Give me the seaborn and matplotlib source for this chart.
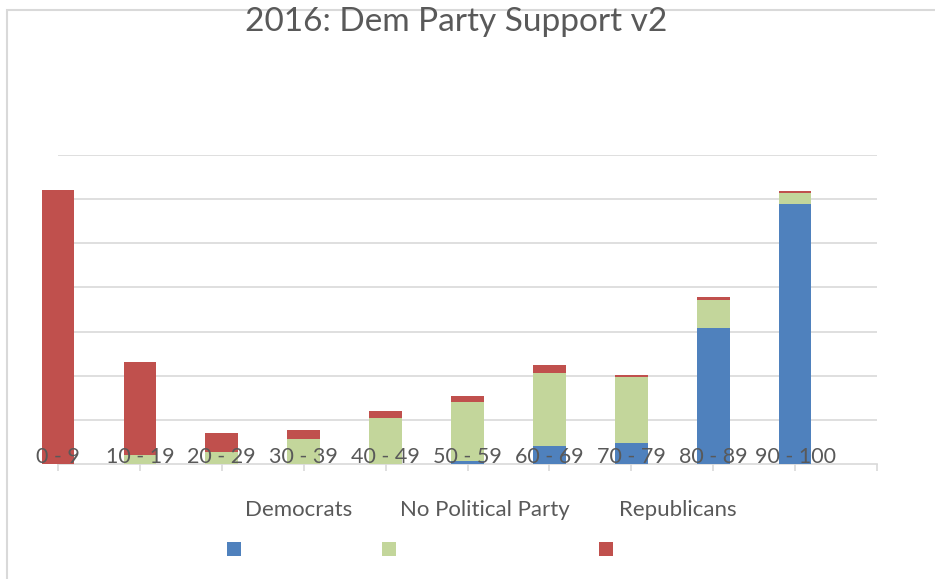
import matplotlib
matplotlib.use("Agg")
import matplotlib.pyplot as plt
from matplotlib.patches import Rectangle
import seaborn as sns
import pandas as pd
import numpy as np

categories = ["0 - 9", "10 - 19", "20 - 29", "30 - 39", "40 - 49",
              "50 - 59", "60 - 69", "70 - 79", "80 - 89", "90 - 100"]
democrats = [0, 0, 0, 0, 0.5, 3.5, 20, 24, 154, 294]
no_party = [0, 10, 14, 28, 52, 67, 83, 74, 32, 13]
republicans = [310, 105, 21, 10, 7, 6, 9, 2.5, 3, 2]
series_names = ["Democrats", "No Political Party", "Republicans"]
colors = ["#4f81bd", "#c3d69b", "#c0504d"]

sns.set_theme(style="white")
plt.rcParams["font.family"] = ["Lato", "DejaVu Sans"]
text_color = "#595959"
grid_color = "#d9d9d9"

df = pd.DataFrame({"cat": categories,
                   "dem": democrats,
                   "npp": no_party,
                   "rep": republicans})
df["c1"] = df["dem"]
df["c2"] = df["dem"] + df["npp"]
df["c3"] = df["c2"] + df["rep"]

fig = plt.figure(figsize=(9.35, 5.79), dpi=100)
ax = fig.add_axes([58 / 935, 1 - 464 / 579, (877 - 58) / 935, (464 - 155) / 579])

for col, color in zip(["c3", "c2", "c1"], colors[::-1]):
    sns.barplot(data=df, x="cat", y=col, color=color, width=0.4,
                saturation=1, ax=ax, order=categories)

for p in ax.patches:
    p.set_clip_on(False)
    p.set_edgecolor("none")
    p.set_zorder(1)

ax.set_axisbelow(False)
ax.set_ylim(0, 350)
ax.set_xlim(0, 10)
for yv in range(50, 351, 50):
    ax.axhline(yv, color=grid_color, lw=1.2, zorder=0.5)

ax.set_yticks([])
ax.set_xticks(range(11))
ax.set_xticklabels(categories + [""])
ax.set_xlabel("")
ax.set_ylabel("")
for s in ["top", "right", "left"]:
    ax.spines[s].set_visible(False)
ax.spines["bottom"].set_color(grid_color)
ax.spines["bottom"].set_linewidth(1.2)
ax.spines["bottom"].set_zorder(0.6)
ax.xaxis.set_zorder(3)
ax.tick_params(axis="x", direction="out", length=5, width=1.2, color=grid_color,
               labelsize=15.5, labelcolor=text_color, pad=-17, bottom=True)

fig.text(456 / 935, 1 - 22 / 579, "2016: Dem Party Support v2", ha="center",
         va="center", fontsize=24, color=text_color)

label_x = [299, 485, 678]
box_x = [227, 382, 599]
for name, color, lx, bx in zip(series_names, colors, label_x, box_x):
    fig.text(lx / 935, 1 - 510 / 579, name, ha="center", va="center",
             fontsize=16, color=text_color)
    fig.add_artist(Rectangle((bx / 935, 1 - 556 / 579), 14 / 935, 14 / 579,
                             transform=fig.transFigure, facecolor=color,
                             edgecolor="none"))

fig.add_artist(Rectangle((7 / 935, -0.1), 1.2, 1 - 10 / 579 + 0.1,
                         transform=fig.transFigure, fill=False,
                         edgecolor=grid_color, lw=1.5))

fig.savefig("out.png", dpi=100)
